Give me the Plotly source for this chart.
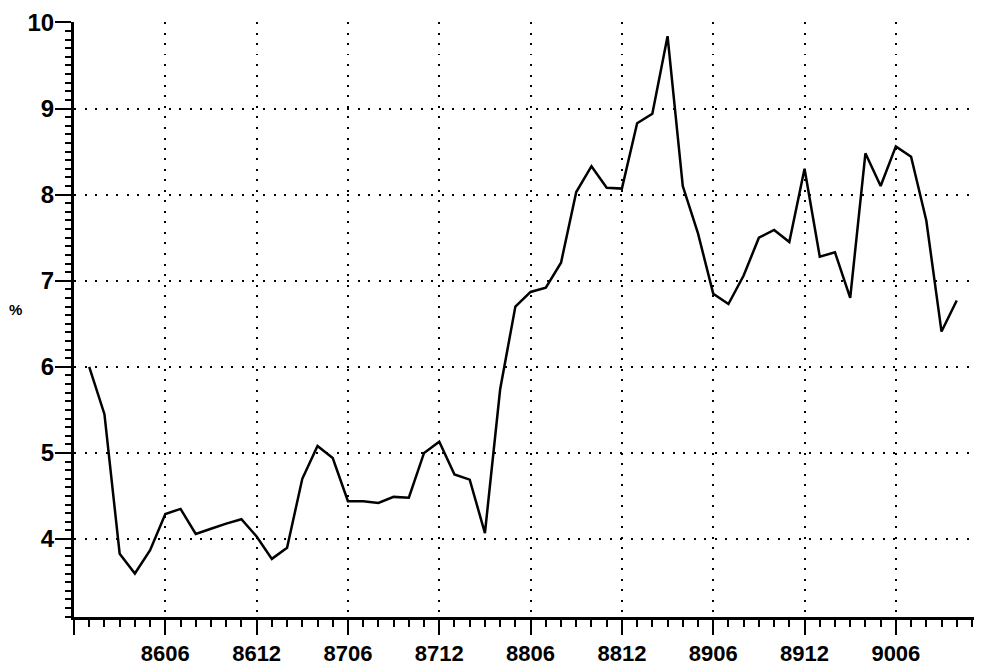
import plotly.graph_objects as go

# Monthly observations, 8601 .. 9010 (YYMM)
months = ["8601","8602","8603","8604","8605","8606","8607","8608","8609","8610","8611","8612",
          "8701","8702","8703","8704","8705","8706","8707","8708","8709","8710","8711","8712",
          "8801","8802","8803","8804","8805","8806","8807","8808","8809","8810","8811","8812",
          "8901","8902","8903","8904","8905","8906","8907","8908","8909","8910","8911","8912",
          "9001","9002","9003","9004","9005","9006","9007","9008","9009","9010"]
values = [6.00, 5.45, 3.83, 3.60, 3.87, 4.29, 4.35, 4.06, 4.12, 4.18, 4.23, 4.03,
          3.77, 3.90, 4.70, 5.08, 4.94, 4.44, 4.44, 4.42, 4.49, 4.48, 5.00, 5.13,
          4.75, 4.69, 4.07, 5.74, 6.70, 6.87, 6.92, 7.21, 8.03, 8.33, 8.08, 8.07,
          8.83, 8.94, 9.84, 8.10, 7.55, 6.85, 6.73, 7.06, 7.50, 7.59, 7.45, 8.30,
          7.28, 7.33, 6.80, 8.48, 8.10, 8.56, 8.44, 7.70, 6.41, 6.77]
tick_labels = ["", "8606", "8612", "8706", "8712", "8806", "8812", "8906", "8912", "9006"]
tick_months = ["8512", "8606", "8612", "8706", "8712", "8806", "8812", "8906", "8912", "9006"]
y_ticks = [4, 5, 6, 7, 8, 9, 10]


def month_index(m):
    # months elapsed since 8512
    yy, mm = int(m[:2]), int(m[2:])
    return (yy - 85) * 12 + (mm - 12)


x = [month_index(m) for m in months]
xt = [month_index(m) for m in tick_months]

FONT = "Liberation Sans, Arial, sans-serif"

fig = go.Figure()
fig.add_trace(go.Scatter(x=x, y=values, mode="lines",
                         line=dict(color="black", width=2.5), hoverinfo="skip"))

fig.update_layout(
    width=982, height=665,
    margin=dict(l=66, r=8, t=14, b=56),
    plot_bgcolor="white", paper_bgcolor="white",
    showlegend=False,
    font=dict(family=FONT, color="black"),
    xaxis=dict(
        range=[0, 59.66], showline=True, linewidth=3, linecolor="black",
        automargin=False,
        ticks="outside", ticklen=15, tickwidth=2, tickcolor="black",
        tickvals=xt, ticktext=tick_labels, ticklabelstandoff=0,
        tickfont=dict(size=22, family=FONT, weight="bold"),
        showgrid=True, gridcolor="black", griddash="2px,8.5px", gridwidth=1.6,
        zeroline=False,
        minor=dict(dtick=1, tick0=0, ticklen=7, tickwidth=2, tickcolor="black",
                   ticks="outside", showgrid=False),
    ),
    yaxis=dict(
        range=[3.095, 10.005], showline=True, linewidth=3, linecolor="black",
        automargin=False,
        ticks="outside", ticklen=16, tickwidth=2, tickcolor="black",
        tickvals=y_ticks, ticktext=[str(v) for v in y_ticks], ticklabelstandoff=-4,
        tickfont=dict(size=24, family=FONT, weight="bold"),
        showgrid=True, gridcolor="black", griddash="2px,8.5px", gridwidth=1.6,
        zeroline=False,
        minor=dict(dtick=0.1, tick0=0, ticklen=6, tickwidth=2, tickcolor="black",
                   ticks="outside", showgrid=False),
    ),
    annotations=[dict(text="%", xref="paper", yref="paper", x=-0.064, y=0.516,
                      xanchor="center", showarrow=False,
                      font=dict(size=15, family=FONT, color="black", weight="bold"))],
)

fig.write_html("out.html")
